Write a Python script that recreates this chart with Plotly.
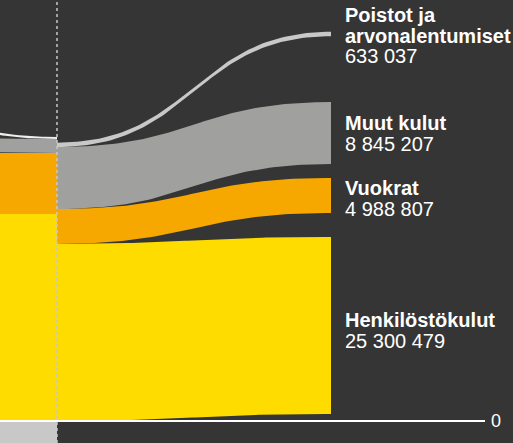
import numpy as np
import plotly.graph_objects as go

# ---------------- data ----------------
categories = ["Henkilöstökulut", "Vuokrat", "Muut kulut", "Poistot ja arvonalentumiset"]
label_lines = [["Henkilöstökulut"], ["Vuokrat"], ["Muut kulut"], ["Poistot ja", "arvonalentumiset"]]
values = [25300479, 4988807, 8845207, 633037]
value_labels = ["25 300 479", "4 988 807", "8 845 207", "633 037"]

# flows of the previous (cropped) stage arriving from the left
left_values = [29570000, 8710000, 2000000, 300000]
left_negative = [-3300000]

# ---------------- style / layout ----------------
colors = ["#ffdc00", "#f7a800", "#a0a09e", "#c8c8c8"]
left_colors = ["#ffdc00", "#f7a800", "#a0a09e", "#eeeeee"]
neg_color = "#c8c8c8"
BG = "#353535"
W, H = 513, 443
PX_PER_M = 7.0
ZERO_PX = 421
X_SPLIT, X_END, X_LABEL, X_LEFT_SRC = 57, 331, 345, -150
END_BASE = 1.0          # millions, offset of the stack at the right end
END_GAPS = [3.43, 2.0, 9.4]   # millions, gaps between right-end bands
LEFT_SHIFT = [0, 0, 0.5, 4.4]  # millions, source shift of the cropped flows
LABEL_DY = [6, 4, 1, 2]        # px, extra downward label shift
FONT = "Liberation Sans"
TEXT_PX = 20          # glyph size of the labels
LINE_PX = 20.5        # distance between label lines

M = 1e6


def bezier(x0, x1, y0, y1, n=80):
    t = np.linspace(0, 1, n)
    xm = (x0 + x1) / 2
    x = (1 - t) ** 3 * x0 + 3 * (1 - t) ** 2 * t * xm + 3 * (1 - t) * t ** 2 * xm + t ** 3 * x1
    y = y0 + (y1 - y0) * (3 * t ** 2 - 2 * t ** 3)
    return x, y


def ribbon(x0, x1, b0, t0, b1, t1, color):
    xt, yt = bezier(x0, x1, t0, t1)
    xb, yb = bezier(x0, x1, b0, b1)
    xs = np.concatenate([xt, xb[::-1]])
    ys = np.concatenate([yt, yb[::-1]])
    return go.Scatter(x=xs, y=ys, mode="lines", fill="toself", fillcolor=color,
                      line=dict(width=0, color=color), hoverinfo="skip", showlegend=False)


fig = go.Figure()

# cropped left flows
cum = 0.0
for v, c, s in zip(left_values, left_colors, LEFT_SHIFT):
    vm = v / M
    fig.add_trace(ribbon(X_LEFT_SRC, X_SPLIT, cum + s, cum + vm + s, cum, cum + vm, c))
    cum += vm
for v in left_negative:
    vm = v / M
    fig.add_trace(ribbon(X_LEFT_SRC, X_SPLIT, vm, 0, vm, 0, neg_color))

# main flows
start = 0.0
end = END_BASE
centers = []
for i, (v, c) in enumerate(zip(values, colors)):
    vm = v / M
    if i > 0:
        end += END_GAPS[i - 1]
    fig.add_trace(ribbon(X_SPLIT, X_END, start, start + vm, end, end + vm, c))
    centers.append(end + vm / 2)
    start += vm
    end += vm

# zero line
fig.add_trace(go.Scatter(x=[0, 485], y=[0, 0], mode="lines",
                         line=dict(color="#ffffff", width=2), hoverinfo="skip", showlegend=False))
fig.add_annotation(x=490, y=0, text="0", showarrow=False, xanchor="left", yanchor="middle",
                   borderpad=0, font=dict(family=FONT, size=18, color="#ffffff"))

# labels: one text block per label; base font sets the (tight) line spacing,
# spans set the glyph size
base_size = LINE_PX / 1.3
for lines, vl, cy, dy in zip(label_lines, value_labels, centers, LABEL_DY):
    parts = ["<span style='font-size:%dpx'><b>%s</b></span>" % (TEXT_PX, l) for l in lines]
    parts.append("<span style='font-size:%dpx'>%s</span>" % (TEXT_PX, vl))
    fig.add_annotation(x=X_LABEL, y=cy, text="<br>".join(parts), showarrow=False,
                       xanchor="left", yanchor="middle", align="left",
                       yshift=1 - dy, borderpad=0, borderwidth=0,
                       font=dict(family=FONT, size=base_size, color="#ffffff"))

ytop = ZERO_PX / PX_PER_M
ybot = -(H - ZERO_PX) / PX_PER_M
fig.add_shape(type="line", x0=X_SPLIT, x1=X_SPLIT, y0=ybot, y1=ytop, layer="above",
              line=dict(color="rgba(200,200,200,0.75)", width=2, dash="dot"))

fig.update_layout(
    width=W, height=H, margin=dict(l=0, r=0, t=0, b=0),
    paper_bgcolor=BG, plot_bgcolor=BG, showlegend=False,
    xaxis=dict(range=[0, W], visible=False, fixedrange=True),
    yaxis=dict(range=[ybot, ytop], visible=False, fixedrange=True),
)

fig.write_html(
    "out.html",
    config={"displayModeBar": False},
    post_script="document.body.style.margin='0';document.body.style.padding='0';"
                "document.body.style.overflow='hidden';document.body.style.background='%s';" % BG,
)
